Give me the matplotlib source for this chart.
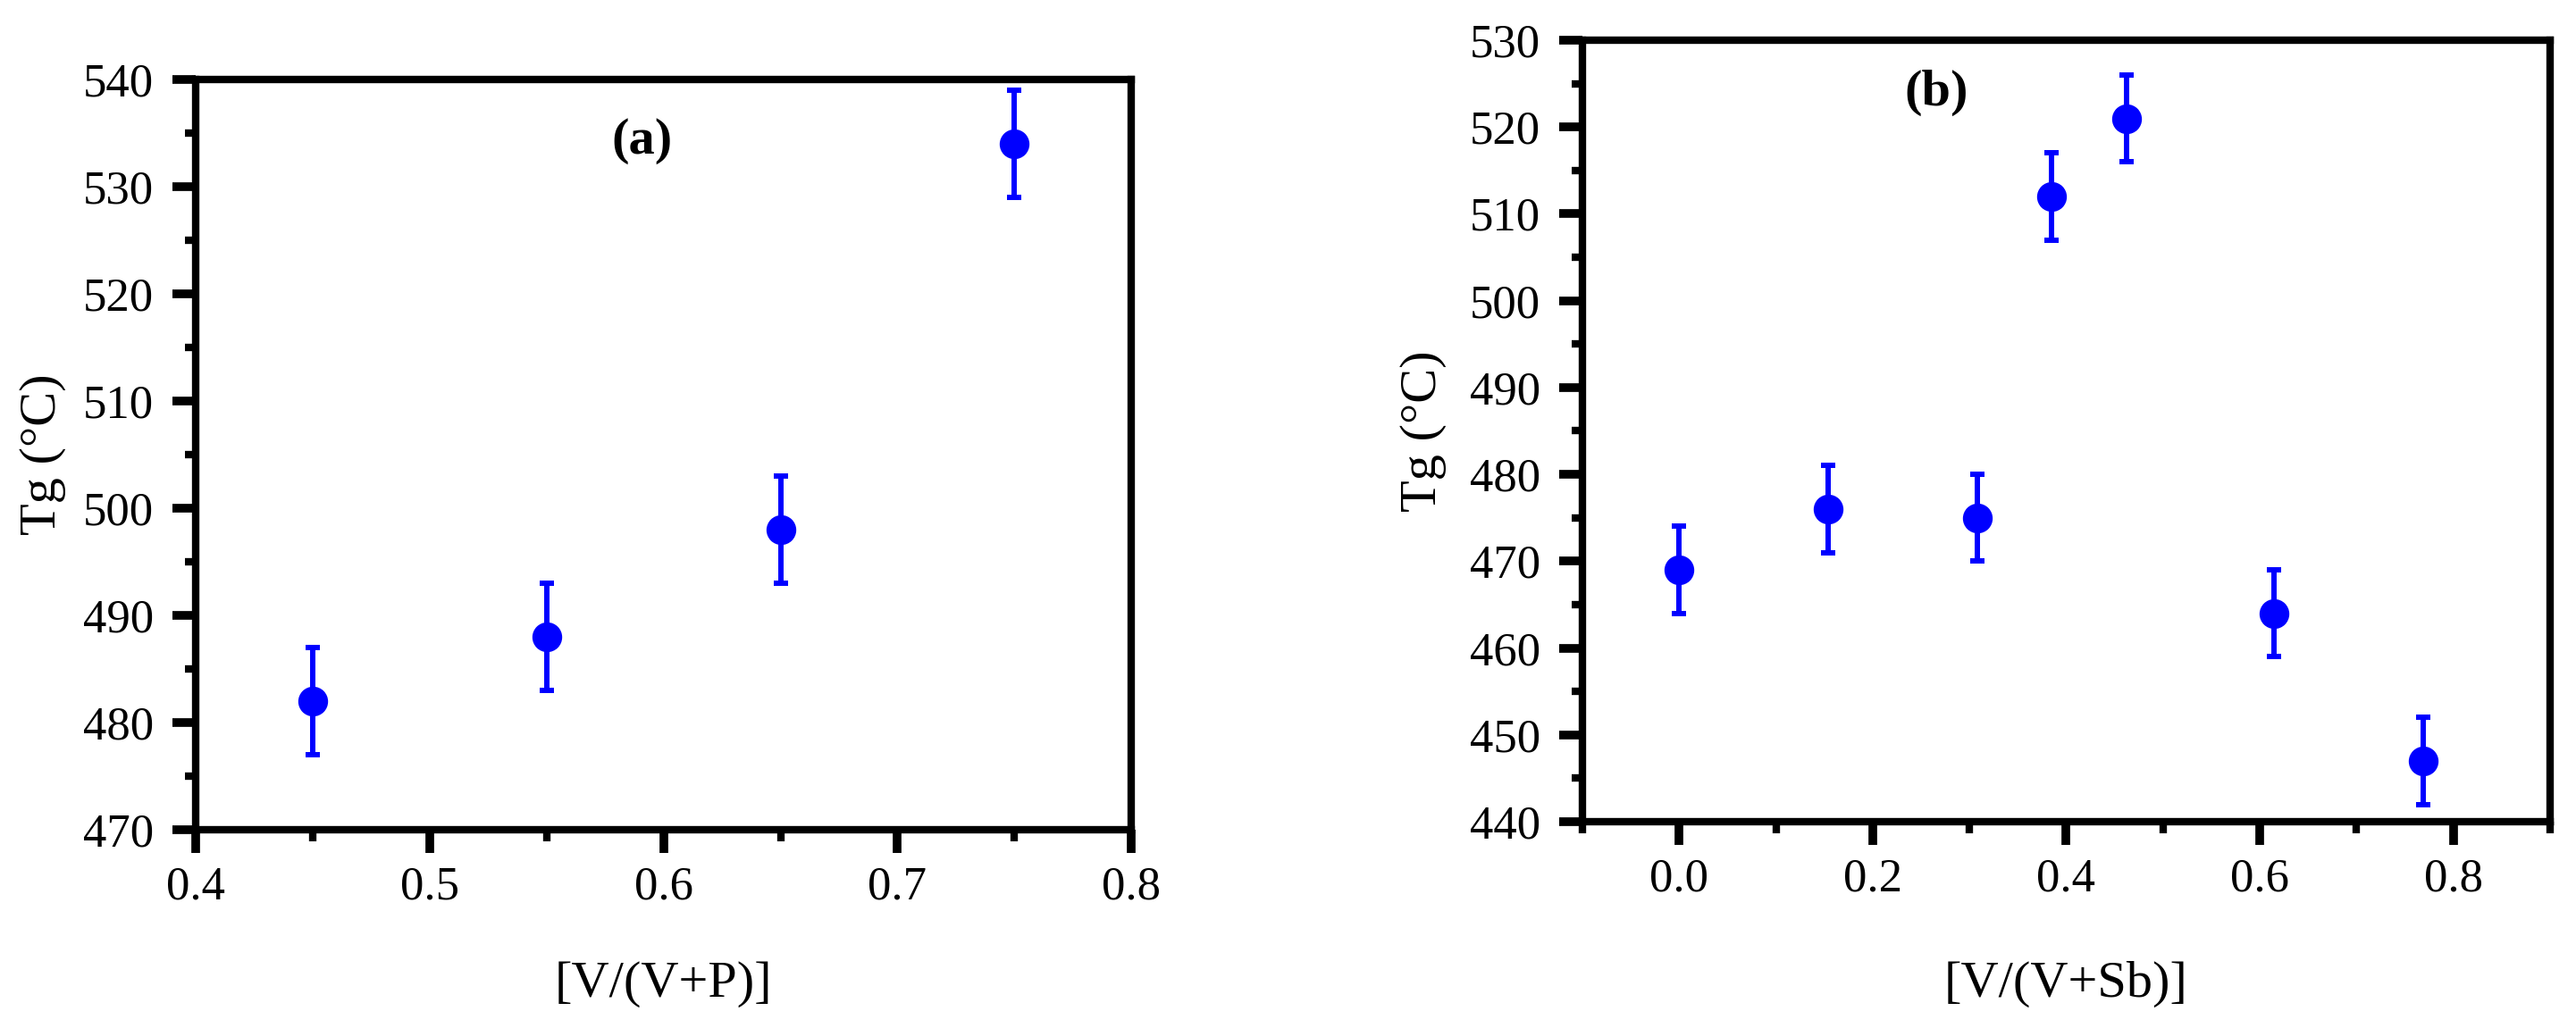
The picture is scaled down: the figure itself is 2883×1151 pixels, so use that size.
import matplotlib
matplotlib.use('Agg')
import matplotlib.pyplot as plt
from matplotlib.ticker import MultipleLocator, FormatStrFormatter

# panel (a): Tg vs V/(V+P)
x_a = [0.45, 0.55, 0.65, 0.75]
tg_a = [482, 488, 498, 534]
err_a = [5, 5, 5, 5]

# panel (b): Tg vs V/(V+Sb)
x_b = [0.0, 0.154, 0.308, 0.385, 0.462, 0.615, 0.769]
tg_b = [469, 476, 475, 512, 521, 464, 447]
err_b = [5, 5, 5, 5, 5, 5, 5]

plt.rcParams['font.family'] = ['Liberation Serif', 'DejaVu Serif']

BLUE = '#0000FF'


def style_axes(ax, xlim, ylim, xmaj, xmin, ymaj, ymin):
    ax.set_xlim(*xlim)
    ax.set_ylim(*ylim)
    ax.xaxis.set_major_locator(MultipleLocator(xmaj))
    ax.xaxis.set_minor_locator(MultipleLocator(xmin))
    ax.yaxis.set_major_locator(MultipleLocator(ymaj))
    ax.yaxis.set_minor_locator(MultipleLocator(ymin))
    ax.xaxis.set_major_formatter(FormatStrFormatter('%.1f'))
    ax.yaxis.set_major_formatter(FormatStrFormatter('%d'))
    for s in ax.spines.values():
        s.set_linewidth(6)
    ax.tick_params(which='major', direction='out', length=19, width=7,
                   labelsize=38, top=False, right=False)
    ax.tick_params(which='minor', direction='out', length=9, width=6,
                   top=False, right=False)
    ax.tick_params(axis='x', which='major', pad=10)
    ax.tick_params(axis='y', which='major', pad=15)


fig = plt.figure(figsize=(28.83, 11.51), dpi=100)

# (a)
ax1 = fig.add_axes([0.0760, 0.1929, 0.3632, 0.7298])
ax1.errorbar(x_a, tg_a, yerr=err_a, fmt='o', color=BLUE, ms=23,
             elinewidth=4.3, capsize=6, capthick=4.3)
style_axes(ax1, (0.4, 0.8), (470, 540), 0.1, 0.05, 10, 5)
ax1.set_xlabel('[V/(V+P)]', fontsize=42, va='center')
ax1.set_ylabel('Tg (°C)', fontsize=42, va='center')
ax1.xaxis.set_label_coords(0.5, -0.206)
ax1.yaxis.set_label_coords(-0.163, 0.5)
ax1.text(0.4765, 0.918, '(a)', transform=ax1.transAxes, fontsize=42,
         fontweight='bold', ha='center', va='center')

# (b)
ax2 = fig.add_axes([0.6143, 0.2007, 0.3756, 0.7602])
ax2.errorbar(x_b, tg_b, yerr=err_b, fmt='o', color=BLUE, ms=23,
             elinewidth=4.3, capsize=6, capthick=4.3)
style_axes(ax2, (-0.1, 0.9), (440, 530), 0.2, 0.1, 10, 5)
ax2.set_xlabel('[V/(V+Sb)]', fontsize=42, va='center')
ax2.set_ylabel('Tg (°C)', fontsize=42, va='center')
ax2.xaxis.set_label_coords(0.5, -0.208)
ax2.yaxis.set_label_coords(-0.164, 0.5)
ax2.text(0.366, 0.933, '(b)', transform=ax2.transAxes, fontsize=42,
         fontweight='bold', ha='center', va='center')

fig.savefig('out.png', dpi=100)
